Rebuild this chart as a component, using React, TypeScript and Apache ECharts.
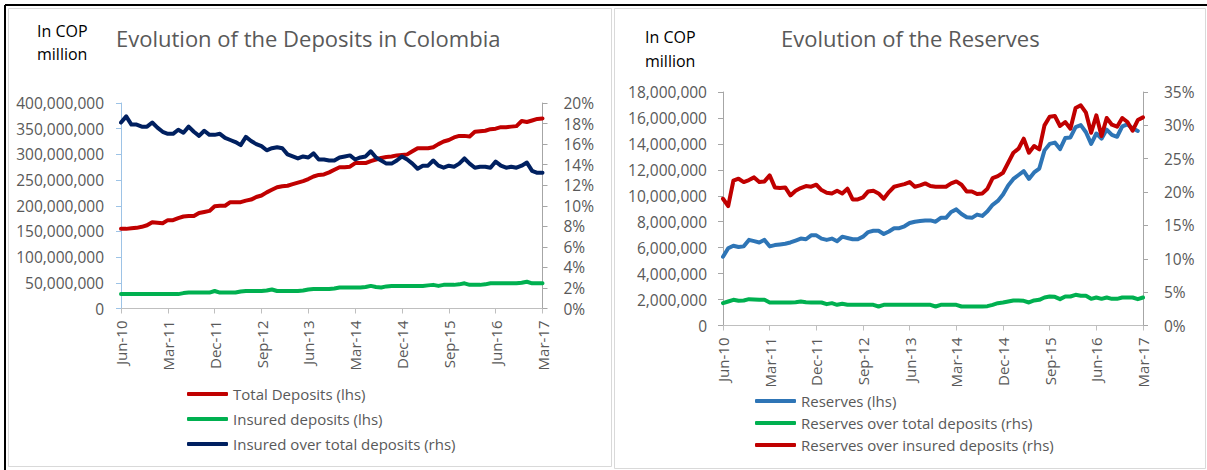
import React, { useEffect, useRef } from "react";
import * as echarts from "echarts";

// Monthly observations, Jun-10 .. Mar-17 (82 months)
const MONTHS = ["Jan", "Feb", "Mar", "Apr", "May", "Jun", "Jul", "Aug", "Sep", "Oct", "Nov", "Dec"];
const categories: string[] = [];
for (let k = 0; k < 82; k++) {
  const m = (5 + k) % 12;
  const y = 10 + Math.floor((5 + k) / 12);
  categories.push(`${MONTHS[m]}-${y}`);
}

// Deposits in Colombia (COP million, shown in millions of the axis unit)
const totalDepositsM = [
  155, 155, 156, 157, 159, 162, 168, 167, 166, 172, 172, 176, 179, 180, 180, 186, 188, 190, 199, 200,
  200, 207, 207, 207, 210, 212, 217, 220, 226, 231, 236, 238, 239, 242, 245, 248, 252, 257, 260, 261,
  265, 270, 275, 275, 276, 283, 283, 283, 287, 290, 293, 295, 296, 298, 299, 300, 306, 312, 312, 312,
  314, 320, 325, 328, 333, 336, 336, 335, 344, 345, 346, 349, 350, 353, 353, 354, 355, 365, 363, 366,
  369, 370,
];
const insuredDepositsM = [
  28, 28, 28, 28, 28, 28, 28, 28, 28, 28, 28, 28, 30, 31, 31, 31, 31, 31, 34, 31,
  31, 31, 31, 33, 34, 34, 34, 34, 35, 37, 34, 34, 34, 34, 34, 35, 37, 38, 38, 38,
  38, 39, 41, 41, 41, 41, 41, 42, 44, 42, 41, 43, 44, 44, 44, 44, 44, 44, 44, 45,
  46, 44, 46, 46, 46, 47, 49, 46, 46, 46, 47, 49, 49, 49, 49, 49, 49, 50, 52, 49,
  49, 49,
];
const insuredOverTotalPct = [
  18.1, 18.7, 17.9, 17.9, 17.7, 17.7, 18.1, 17.6, 17.2, 17.0, 17.0, 17.4, 17.1, 17.7, 17.2, 16.8, 17.3, 16.9, 16.9, 17.0,
  16.6, 16.4, 16.2, 15.9, 16.7, 16.3, 16.0, 15.8, 15.4, 15.6, 15.7, 15.6, 15.0, 14.8, 14.6, 14.8, 14.7, 15.1, 14.5, 14.5,
  14.4, 14.4, 14.7, 14.8, 14.9, 14.5, 14.7, 14.8, 15.3, 14.7, 14.4, 14.1, 14.1, 14.4, 14.8, 14.5, 14.1, 13.6, 13.9, 13.9,
  14.4, 13.9, 13.7, 13.9, 13.8, 14.1, 14.6, 14.1, 13.7, 13.8, 13.8, 13.7, 14.3, 13.9, 13.7, 13.8, 13.7, 13.9, 14.2, 13.4,
  13.2, 13.2,
];

// Reserves (COP million, shown in millions of the axis unit)
const reservesM: (number | null)[] = [
  5.3, 5.95, 6.15, 6.05, 6.1, 6.6, 6.5, 6.4, 6.6, 6.1, 6.2, 6.25, 6.3, 6.4, 6.55, 6.7, 6.65, 6.95, 6.95, 6.7,
  6.6, 6.7, 6.5, 6.85, 6.75, 6.65, 6.65, 6.85, 7.2, 7.3, 7.3, 7.05, 7.25, 7.5, 7.5, 7.65, 7.9, 8.0, 8.05, 8.1,
  8.1, 8.0, 8.3, 8.3, 8.75, 8.95, 8.6, 8.35, 8.3, 8.55, 8.45, 8.8, 9.3, 9.6, 10.1, 10.8, 11.3, 11.6, 11.9, 11.3,
  11.8, 12.1, 13.5, 14.0, 14.1, 13.6, 14.45, 14.5, 15.3, 15.45, 14.9, 14.0, 14.8, 14.4, 15.1, 14.7, 14.55, 15.35, 15.5, 15.2,
  15.0, null,
];
const reservesOverTotalPct = [
  3.35, 3.6, 3.85, 3.7, 3.75, 3.95, 3.9, 3.85, 3.85, 3.45, 3.45, 3.45, 3.45, 3.45, 3.5, 3.6, 3.5, 3.45, 3.45, 3.45,
  3.2, 3.35, 3.1, 3.25, 3.1, 3.1, 3.1, 3.1, 3.1, 3.1, 2.85, 3.1, 3.1, 3.1, 3.1, 3.1, 3.1, 3.1, 3.1, 3.1,
  3.1, 2.85, 3.1, 3.1, 3.1, 3.1, 2.85, 2.85, 2.85, 2.85, 2.85, 2.9, 3.1, 3.35, 3.45, 3.6, 3.75, 3.75, 3.7, 3.45,
  3.75, 3.85, 4.2, 4.35, 4.3, 3.95, 4.35, 4.35, 4.6, 4.45, 4.45, 4.0, 4.2, 4.0, 4.2, 4.0, 4.0, 4.2, 4.2, 4.2,
  3.95, 4.2,
];
const reservesOverInsuredPct = [
  19.0, 17.9, 21.7, 22.0, 21.5, 21.8, 22.2, 21.5, 21.6, 22.5, 20.7, 20.6, 20.7, 19.5, 20.2, 20.6, 20.9, 20.8, 21.1, 20.3,
  19.9, 19.8, 20.2, 19.8, 20.5, 18.9, 18.9, 19.2, 20.1, 20.2, 19.8, 19.0, 20.0, 20.8, 21.0, 21.2, 21.5, 20.8, 21.0, 21.3,
  20.9, 20.8, 20.8, 20.8, 21.3, 21.6, 21.1, 20.1, 20.1, 19.7, 19.8, 20.5, 22.1, 22.4, 22.9, 24.4, 25.9, 26.5, 28.0, 25.9,
  26.9, 26.4, 30.0, 31.3, 31.4, 29.9, 30.5, 29.5, 32.6, 33.0, 31.9, 28.9, 31.5, 28.4, 31.1, 30.1, 29.8, 31.1, 30.5, 29.2,
  30.8, 31.2,
];

const MILLION = 1e6;
const toUnits = (arr: (number | null)[]) => arr.map((v) => (v == null ? null : v * MILLION));

const FONT = "'Open Sans', sans-serif";
const GREY_TEXT = "#595959";
const AXIS_GREY = "#BFBFBF";
const RED = "#C00000";
const GREEN = "#00B050";
const NAVY = "#002060";
const BLUE = "#2E75B6";

const fmtThousands = (v: number) => String(Math.round(v)).replace(/\B(?=(\d{3})+(?!\d))/g, ",");

function xAxisFor(gridIndex: number) {
  return {
    type: "category",
    gridIndex,
    data: categories,
    boundaryGap: false,
    axisLine: { lineStyle: { color: AXIS_GREY, width: 1 } },
    axisTick: { show: true, interval: 8, length: 5, lineStyle: { color: AXIS_GREY } },
    axisLabel: {
      interval: 8,
      rotate: 90,
      margin: 12,
      color: GREY_TEXT,
      fontFamily: FONT,
      fontSize: 15,
    },
    splitLine: { show: false },
  };
}

function valueAxis(gridIndex: number, position: "left" | "right", max: number, interval: number, formatter: (v: number) => string, lineColor: string, margin: number) {
  return {
    type: "value",
    gridIndex,
    position,
    min: 0,
    max,
    interval,
    axisLine: { show: true, lineStyle: { color: lineColor, width: 1 } },
    axisTick: { show: true, length: 5, lineStyle: { color: lineColor } },
    axisLabel: { formatter, color: GREY_TEXT, fontFamily: FONT, fontSize: 15.5, margin },
    splitLine: { show: false },
  };
}

function lineSeries(name: string, data: (number | null)[], color: string, xAxisIndex: number, yAxisIndex: number) {
  return {
    type: "line",
    name,
    data,
    xAxisIndex,
    yAxisIndex,
    symbol: "none",
    smooth: false,
    connectNulls: false,
    lineStyle: { color, width: 4, cap: "round", join: "round" },
    itemStyle: { color },
  };
}

export default function App() {
  const ref = useRef<HTMLDivElement>(null);

  useEffect(() => {
    if (!ref.current) return;
    const chart = echarts.init(ref.current, undefined, { renderer: "svg" });

    const pct = (v: number) => `${v}%`;

    chart.setOption({
      animation: false,
      backgroundColor: "#ffffff",
      title: [
        {
          text: "Evolution of the Deposits in Colombia",
          left: 116,
          top: 27,
          padding: 0,
          textStyle: { color: GREY_TEXT, fontFamily: FONT, fontSize: 22, fontWeight: "normal" },
        },
        {
          text: "Evolution of the Reserves",
          left: 781,
          top: 27,
          padding: 0,
          textStyle: { color: GREY_TEXT, fontFamily: FONT, fontSize: 22, fontWeight: "normal" },
        },
      ],
      grid: [
        { left: 121, top: 103, width: 421.5, height: 205.5, containLabel: false },
        { left: 723, top: 92, width: 420, height: 233.5, containLabel: false },
      ],
      xAxis: [xAxisFor(0), xAxisFor(1)],
      yAxis: [
        valueAxis(0, "left", 400 * MILLION, 50 * MILLION, fmtThousands, "#9DC3E6", 17),
        valueAxis(0, "right", 20, 2, pct, "#A6A6A6", 21),
        valueAxis(1, "left", 18 * MILLION, 2 * MILLION, fmtThousands, "#A6A6A6", 16),
        valueAxis(1, "right", 35, 5, pct, "#A6A6A6", 21),
      ],
      legend: [
        {
          orient: "vertical",
          left: 187,
          top: 386,
          padding: 0,
          itemGap: 9,
          itemWidth: 41,
          itemHeight: 4,
          icon: "roundRect",
          textStyle: { color: GREY_TEXT, fontFamily: FONT, fontSize: 15, lineHeight: 16 },
          data: ["Total Deposits (lhs)", "Insured deposits (lhs)", "Insured over total deposits (rhs)"],
        },
        {
          orient: "vertical",
          left: 755,
          top: 393,
          padding: 0,
          itemGap: 6,
          itemWidth: 41,
          itemHeight: 4,
          icon: "roundRect",
          textStyle: { color: GREY_TEXT, fontFamily: FONT, fontSize: 15, lineHeight: 16 },
          data: ["Reserves (lhs)", "Reserves over total deposits (rhs)", "Reserves over insured deposits (rhs)"],
        },
      ],
      series: [
        lineSeries("Total Deposits (lhs)", toUnits(totalDepositsM), RED, 0, 0),
        lineSeries("Insured deposits (lhs)", toUnits(insuredDepositsM), GREEN, 0, 0),
        lineSeries("Insured over total deposits (rhs)", insuredOverTotalPct, NAVY, 0, 1),
        lineSeries("Reserves (lhs)", toUnits(reservesM), BLUE, 1, 2),
        lineSeries("Reserves over total deposits (rhs)", reservesOverTotalPct, GREEN, 1, 3),
        lineSeries("Reserves over insured deposits (rhs)", reservesOverInsuredPct, RED, 1, 3),
      ],
      graphic: [
        // panel frames
        { type: "rect", silent: true, shape: { x: 8.5, y: 8.5, width: 603, height: 458 }, style: { fill: "none", stroke: "#D9D9D9", lineWidth: 1 } },
        { type: "rect", silent: true, shape: { x: 614.5, y: 8.5, width: 591, height: 460 }, style: { fill: "none", stroke: "#D9D9D9", lineWidth: 1 } },
        { type: "line", silent: true, shape: { x1: 5, y1: 5, x2: 1207, y2: 5 }, style: { stroke: "#000000", lineWidth: 2 } },
        { type: "line", silent: true, shape: { x1: 5, y1: 5, x2: 5, y2: 470 }, style: { stroke: "#000000", lineWidth: 2 } },
        // unit captions
        { type: "text", left: 37, top: 19, style: { text: "In COP\nmillion", fill: "#000000", font: `16px ${FONT}`, lineHeight: 23 } },
        { type: "text", left: 645, top: 25, style: { text: "In COP\nmillion", fill: "#000000", font: `16px ${FONT}`, lineHeight: 24 } },
      ],
    });

    return () => chart.dispose();
  }, []);

  return <div ref={ref} style={{ position: "absolute", left: 0, top: 0, width: 1207, height: 470 }} />;
}
